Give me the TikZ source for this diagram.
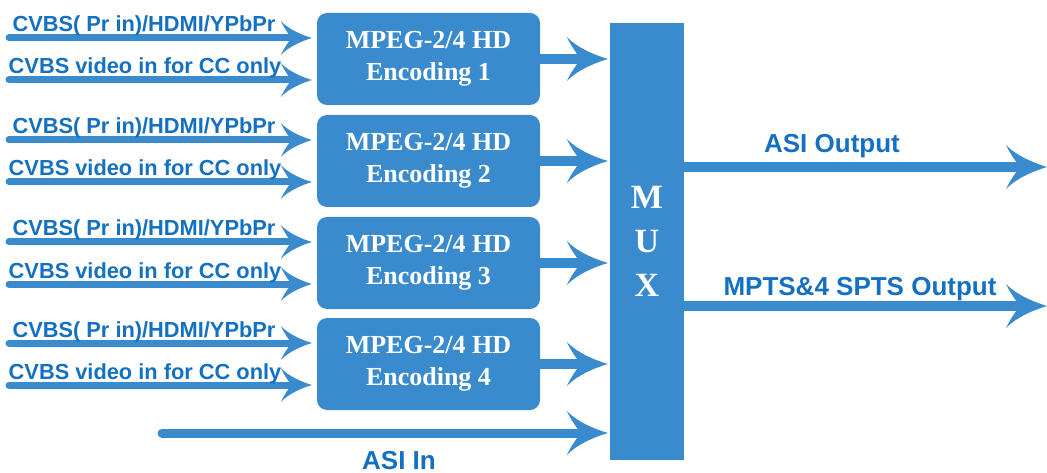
\documentclass[tikz,border=0pt]{standalone}
\usepackage{fontspec}
\setmainfont{Liberation Serif}
\newfontfamily\labelfont{Liberation Sans}
\usetikzlibrary{arrows.meta, positioning}
\definecolor{muxblue}{HTML}{3A8BCD}
\definecolor{labelblue}{HTML}{1470C0}

% swept arrow head with curved flanks
\pgfdeclarearrow{
  name = Swept,
  parameters = {\the\pgfarrowlength,\the\pgfarrowwidth},
  setup code = {
    \pgfarrowssettipend{0pt}
    \pgfarrowssetlineend{-.6\pgfarrowlength}
    \pgfarrowssetbackend{-\pgfarrowlength}
    \pgfarrowssavethe\pgfarrowlength
    \pgfarrowssavethe\pgfarrowwidth
  },
  drawing code = {
    \pgfpathmoveto{\pgfpoint{0pt}{0pt}}
    \pgfpathcurveto{\pgfpoint{-.35\pgfarrowlength}{.1\pgfarrowwidth}}{\pgfpoint{-.75\pgfarrowlength}{.26\pgfarrowwidth}}{\pgfpoint{-\pgfarrowlength}{.5\pgfarrowwidth}}
    \pgfpathcurveto{\pgfpoint{-.9\pgfarrowlength}{.3\pgfarrowwidth}}{\pgfpoint{-.74\pgfarrowlength}{.1\pgfarrowwidth}}{\pgfpoint{-.66\pgfarrowlength}{0pt}}
    \pgfpathcurveto{\pgfpoint{-.74\pgfarrowlength}{-.1\pgfarrowwidth}}{\pgfpoint{-.9\pgfarrowlength}{-.3\pgfarrowwidth}}{\pgfpoint{-\pgfarrowlength}{-.5\pgfarrowwidth}}
    \pgfpathcurveto{\pgfpoint{-.75\pgfarrowlength}{-.26\pgfarrowwidth}}{\pgfpoint{-.35\pgfarrowlength}{-.1\pgfarrowwidth}}{\pgfpoint{0pt}{0pt}}
    \pgfpathclose
    \pgfusepathqfill
  },
  defaults = {length=30pt, width=32pt}
}

\begin{document}
\begin{tikzpicture}[x=1pt, y=-1pt,
  encbox/.style={fill=muxblue, rounded corners=10pt, minimum width=223pt, minimum height=92pt, inner sep=0pt,
    text=white, align=center, font=\fontsize{26}{32}\selectfont\bfseries},
  inarrow/.style={muxblue, line width=7pt, line cap=round, shorten >=5pt,
    -{Swept[length=31pt, width=34pt]}},
  outarrow/.style={muxblue, line width=10pt, line cap=round, shorten >=2pt,
    -{Swept[length=41pt, width=44pt]}},
  inlabel/.style={labelblue, anchor=base, font=\labelfont\fontsize{21.8}{24}\selectfont\bfseries},
  outlabel/.style={labelblue, anchor=base, font=\labelfont\fontsize{26}{28}\selectfont\bfseries}]

\useasboundingbox (0,0) rectangle (1047,473);

% Multiplexer
\node[fill=muxblue, minimum width=74pt, minimum height=437pt, inner sep=0pt] (mux) at (647,241.5) {};
\node[text=white, align=center, font=\fontsize{34}{44}\selectfont\bfseries] (muxtext) at (647,241) {M\\U\\X};

% Encoders, two inputs each
\foreach \i/\y in {1/59, 2/161, 3/263, 4/364} {
  \node[encbox] (enc\i) at (428.5,\y) {MPEG-2/4 HD\\Encoding \i};
  \coordinate (srcA\i) at (9,\y-21);
  \coordinate (srcB\i) at (9,\y+21);
  \draw[inarrow] (srcA\i) -- (enc\i.west |- srcA\i);
  \draw[inarrow] (srcB\i) -- (enc\i.west |- srcB\i);
  \node[inlabel] (lblA\i) at (144,\y-27) {CVBS( Pr in)/HDMI/YPbPr};
  \node[inlabel] (lblB\i) at (145,\y+15) {CVBS video in for CC only};
  \draw[outarrow] (enc\i.east) -- (mux.west |- enc\i.east);
}

% ASI input
\coordinate (asiin) at (162,433);
\draw[outarrow, line width=9pt] (asiin) -- (mux.west |- asiin);
\node[outlabel] (asiinlbl) at (399,469) {ASI In};

% Outputs
\coordinate (asiout) at (1047,167);
\coordinate (mptsout) at (1047,306);
\draw[outarrow, shorten >=0pt] (mux.east |- asiout) -- (asiout);
\draw[outarrow, shorten >=0pt] (mux.east |- mptsout) -- (mptsout);
\node[outlabel] (asioutlbl) at (832,153) {ASI Output};
\node[outlabel] (mptsoutlbl) at (860,295) {MPTS\&4 SPTS Output};
\end{tikzpicture}
\end{document}
